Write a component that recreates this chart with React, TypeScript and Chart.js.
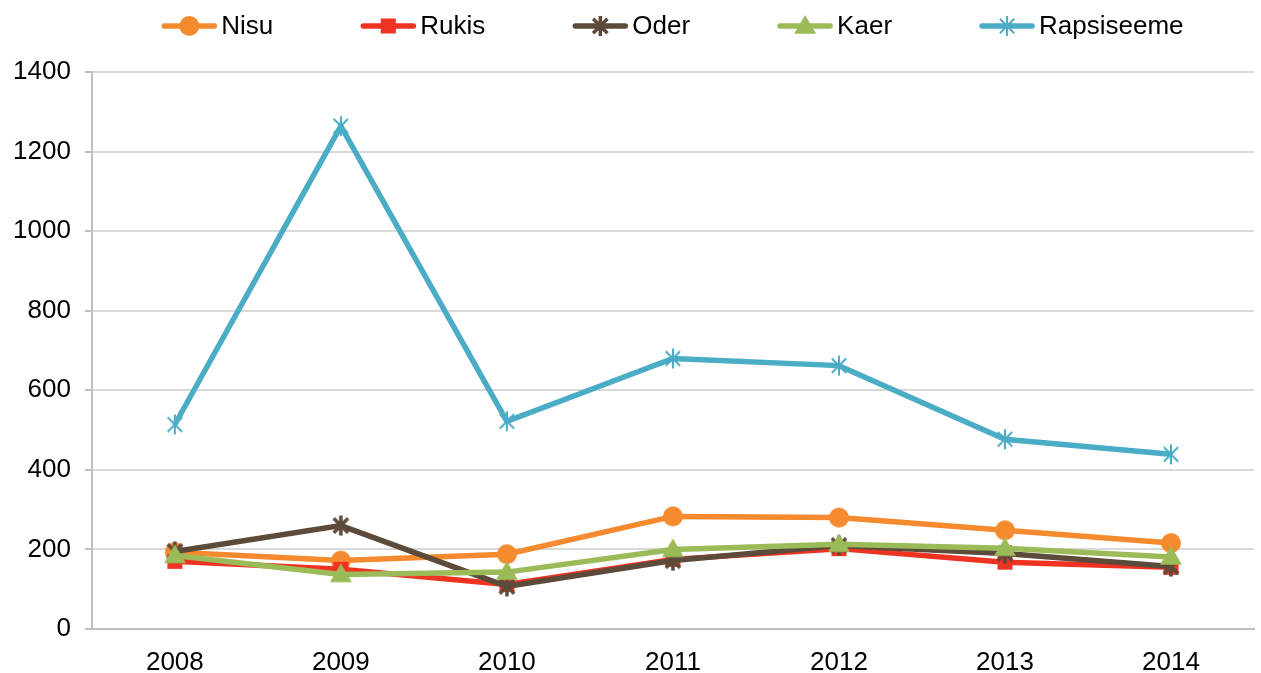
import React, { useEffect, useRef } from "react";
import { Chart, registerables } from "chart.js";

Chart.register(...registerables);

const years = ["2008", "2009", "2010", "2011", "2012", "2013", "2014"];
const nisu = [193, 172, 188, 283, 280, 248, 216];
const rukis = [170, 150, 112, 175, 202, 168, 155];
const oder = [195, 260, 107, 172, 210, 190, 157];
const kaer = [185, 137, 143, 200, 213, 203, 181];
const rapsiseeme = [514, 1264, 522, 680, 662, 477, 439];
const yTicks = [0, 200, 400, 600, 800, 1000, 1200, 1400];

const seriesNames = ["Nisu", "Rukis", "Oder", "Kaer", "Rapsiseeme"];
const seriesColors = ["#F58A2F", "#EE3322", "#5C4A3A", "#9BBB59", "#4BACC6"];
const seriesStyles = ["circle", "square", "star", "triangle", "star"];
const seriesRadius = [10, 7.5, 10, 11, 10];
const seriesStarWidth = [0, 0, 3.5, 0, 2];

const FONT = "Liberation Sans, Arial, sans-serif";

function drawMarker(ctx: CanvasRenderingContext2D, style: string, r: number, x: number, y: number, sw: number) {
  if (style === "circle") {
    ctx.beginPath();
    ctx.arc(x, y, r, 0, Math.PI * 2);
    ctx.fill();
  } else if (style === "square") {
    ctx.fillRect(x - r, y - r, 2 * r, 2 * r);
  } else if (style === "triangle") {
    ctx.beginPath();
    ctx.moveTo(x, y - r);
    ctx.lineTo(x + r, y + r * 0.7);
    ctx.lineTo(x - r, y + r * 0.7);
    ctx.closePath();
    ctx.fill();
  } else if (style === "star") {
    ctx.lineWidth = sw;
    ctx.lineCap = "butt";
    const d = r * 0.72;
    ctx.beginPath();
    ctx.moveTo(x, y - r);
    ctx.lineTo(x, y + r);
    ctx.moveTo(x - d, y - d);
    ctx.lineTo(x + d, y + d);
    ctx.moveTo(x + d, y - d);
    ctx.lineTo(x - d, y + d);
    ctx.stroke();
  }
}

function makeMarker(i: number): HTMLCanvasElement {
  const r = seriesRadius[i];
  const size = Math.ceil(2 * r + 6);
  const c = document.createElement("canvas");
  c.width = size;
  c.height = size;
  const ctx = c.getContext("2d")!;
  ctx.fillStyle = seriesColors[i];
  ctx.strokeStyle = seriesColors[i];
  drawMarker(ctx, seriesStyles[i], r, size / 2, size / 2, seriesStarWidth[i]);
  return c;
}

const legendPlugin = {
  id: "excelLegend",
  afterDraw(chart: any) {
    const ctx: CanvasRenderingContext2D = chart.ctx;
    const area = chart.chartArea;
    ctx.save();
    ctx.font = `26px ${FONT}`;
    const iconW = 54;
    const textGap = 5;
    const itemGap = 88;
    const widths = seriesNames.map((n) => ctx.measureText(n).width);
    const total = widths.reduce((a, w) => a + iconW + textGap + w, 0) + itemGap * (seriesNames.length - 1);
    let x = (area.left + area.right) / 2 - total / 2;
    const y = 26;
    seriesNames.forEach((name, i) => {
      ctx.strokeStyle = seriesColors[i];
      ctx.fillStyle = seriesColors[i];
      ctx.lineWidth = 5.5;
      ctx.lineCap = "round";
      ctx.beginPath();
      ctx.moveTo(x + 2, y);
      ctx.lineTo(x + iconW - 2, y);
      ctx.stroke();
      drawMarker(ctx, seriesStyles[i], seriesRadius[i], x + iconW / 2, y, seriesStarWidth[i]);
      ctx.fillStyle = "#000";
      ctx.textBaseline = "middle";
      ctx.textAlign = "left";
      ctx.fillText(name, x + iconW + textGap, y + 1);
      x += iconW + textGap + widths[i] + itemGap;
    });
    ctx.restore();
  },
};

export default function App() {
  const ref = useRef<HTMLCanvasElement | null>(null);
  useEffect(() => {
    document.body.style.margin = "0";
    const data = [nisu, rukis, oder, kaer, rapsiseeme];
    const markers = seriesNames.map((_, i) => makeMarker(i));
    const chart = new Chart(ref.current!, {
      type: "line",
      data: {
        labels: years,
        datasets: seriesNames.map((name, i) => ({
          label: name,
          data: data[i],
          borderColor: seriesColors[i],
          backgroundColor: seriesColors[i],
          pointStyle: markers[i] as any,
          pointRadius: seriesRadius[i],
          borderWidth: 5.5,
          tension: 0,
          order: 4 - i,
        })),
      },
      options: {
        animation: false,
        responsive: false,
        layout: { autoPadding: false, padding: { left: -1, right: 7, top: 72, bottom: -24 } },
        plugins: {
          tooltip: { enabled: false },
          legend: { display: false },
        },
        scales: {
          x: {
            offset: true,
            afterFit: (s: any) => {
              s.paddingRight = 0;
              s.paddingLeft = 0;
            },
            grid: { display: false, drawTicks: false },
            border: { color: "#BFBFBF", width: 2 },
            ticks: { font: { family: FONT, size: 26, lineHeight: 1 }, color: "#000", padding: 21 },
          },
          y: {
            min: yTicks[0],
            max: yTicks[yTicks.length - 1],
            afterBuildTicks: (axis: any) => {
              axis.ticks = yTicks.map((v) => ({ value: v }));
            },
            ticks: {
              font: { family: FONT, size: 26 },
              color: "#000",
              padding: 14,
              callback: (v: any) => String(v),
            },
            grid: { color: "#D9D9D9", lineWidth: 2, tickLength: 7, tickColor: "#BFBFBF" },
            border: { color: "#BFBFBF", width: 2 },
          },
        },
      },
      plugins: [legendPlugin],
    });
    return () => chart.destroy();
  }, []);
  return (
    <div style={{ position: "fixed", left: 0, top: 0, width: 1261, height: 673, background: "#fff" }}>
      <canvas ref={ref} width={1261} height={673} />
    </div>
  );
}
